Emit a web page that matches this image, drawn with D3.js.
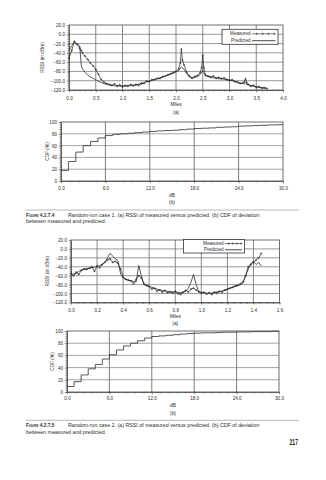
<!DOCTYPE html>
<html>
<head>
<meta charset="utf-8">
<script src="https://cdn.jsdelivr.net/npm/d3@7/dist/d3.min.js"></script>
<style>
  html, body { margin: 0; padding: 0; background: #fff; }
  svg { display: block; }
  text { font-family: "Liberation Sans", Arial, sans-serif; fill: #2b2b2b; }
</style>
</head>
<body>
<svg id="page" width="326" height="480" viewBox="0 0 326 480"></svg>
<script>
// ---------- Random-run case 1 ----------
const case1Miles = [
  0, 0.05, 0.1, 0.15, 0.2, 0.23, 0.25, 0.3, 0.35, 0.4,
  0.45, 0.5, 0.55, 0.6, 0.65, 0.7, 0.75, 0.8, 0.85, 0.9,
  0.95, 1.0, 1.05, 1.1, 1.15, 1.2, 1.25, 1.3, 1.35, 1.4,
  1.45, 1.5, 1.55, 1.6, 1.65, 1.7, 1.75, 1.8, 1.85, 1.9,
  1.95, 2.0, 2.05, 2.08, 2.1, 2.12, 2.15, 2.2, 2.25, 2.3,
  2.35, 2.4, 2.45, 2.48, 2.5, 2.52, 2.55, 2.6, 2.65, 2.7,
  2.75, 2.8, 2.85, 2.9, 2.95, 3.0, 3.05, 3.1, 3.15, 3.2,
  3.25, 3.28, 3.3, 3.32, 3.35, 3.4, 3.45, 3.5, 3.55, 3.6,
  3.65, 3.7
];
const case1Measured = [
  -52, -35, -15, -22, -30, -35, -40, -47, -54, -62,
  -68, -76, -86, -97, -103, -106, -108, -110, -107, -112,
  -109, -113, -110, -112, -108, -111, -108, -110, -105, -106,
  -101, -102, -98, -98, -95, -95, -91, -90, -87, -85,
  -82, -80, -74, -62, -32, -56, -66, -82, -90, -94,
  -91, -89, -83, -72, -45, -72, -88, -90, -92, -90,
  -95, -93, -96, -94, -98, -99, -98, -102, -103, -106,
  -105, -102, -96, -104, -108, -112, -110, -114, -113, -116,
  -115, -117
];
const case1Predicted = [
  -35, -25, -17, -20, -25, -68, -74, -82, -88, -92,
  -95, -98, -101, -104, -106, -108, -109, -110, -111, -110,
  -112, -111, -112, -110, -111, -109, -110, -107, -108, -104,
  -102, -101, -99, -97, -96, -94, -93, -90, -88, -86,
  -84, -81, -78, -74, -70, -72, -76, -84, -92, -95,
  -93, -91, -87, -82, -77, -82, -89, -91, -93, -94,
  -93, -96, -95, -97, -97, -99, -100, -101, -104, -105,
  -106, -107, -105, -108, -109, -110, -112, -113, -114, -115,
  -116, -116
];
const case1Db = [
  0, 1, 2, 3, 4, 5, 6, 7, 8, 9, 10, 11, 12, 13, 14, 15,
  16, 17, 18, 19, 20, 21, 22, 23, 24, 25, 26, 27, 28, 29, 30
];
const case1Cdf = [
  18, 33, 49, 60, 67, 73, 77, 79, 80, 81, 82, 83, 84, 85, 85.5, 86,
  87, 88, 89, 89.5, 90, 91, 91.5, 92, 93, 93.5, 94, 94.5, 95, 95.3, 95.5
];

// ---------- Random-run case 2 ----------
const case2Miles = [
  0, 0.02, 0.04, 0.06, 0.08, 0.1, 0.12, 0.14, 0.16, 0.18,
  0.2, 0.22, 0.24, 0.26, 0.28, 0.3, 0.32, 0.34, 0.36, 0.38,
  0.4, 0.42, 0.44, 0.46, 0.48, 0.5, 0.52, 0.54, 0.56, 0.58,
  0.6, 0.62, 0.64, 0.66, 0.68, 0.7, 0.72, 0.74, 0.76, 0.78,
  0.8, 0.82, 0.84, 0.86, 0.88, 0.9, 0.92, 0.94, 0.96, 0.98,
  1.0, 1.02, 1.04, 1.06, 1.08, 1.1, 1.12, 1.14, 1.16, 1.18,
  1.2, 1.22, 1.24, 1.26, 1.28, 1.3, 1.32, 1.34, 1.36, 1.38,
  1.4, 1.42, 1.44, 1.46
];
const case2Measured = [
  -55, -60, -52, -57, -48, -45, -46, -43, -40, -50,
  -38, -42, -35, -30, -25, -22, -30, -28, -32, -45,
  -63, -68, -70, -72, -78, -68, -60, -65, -78, -82,
  -84, -90, -88, -95, -92, -97, -93, -98, -96, -99,
  -95, -100, -102, -97, -93, -96, -90, -88, -92, -96,
  -99, -97, -101, -98, -102, -97, -99, -95, -97, -92,
  -90, -88, -86, -83, -82, -78, -74, -60, -40, -35,
  -30, -25, -20, -10
];
const case2Predicted = [
  -58, -56, -55, -50, -47, -45, -44, -44, -42, -41,
  -40, -37, -34, -30, -20, -10, -16, -22, -26, -55,
  -65, -68, -70, -71, -73, -74, -37, -60, -80, -82,
  -84, -86, -88, -90, -92, -93, -94, -95, -96, -96,
  -97, -97, -98, -97, -95, -88, -75, -57, -80, -95,
  -97, -98, -99, -100, -99, -98, -96, -96, -94, -93,
  -91, -88, -86, -84, -82, -80, -76, -60, -45, -33,
  -28, -35, -30, -38
];
const case2Db = [
  0, 1, 2, 3, 4, 5, 6, 7, 8, 9, 10, 11, 12, 13, 14, 15,
  16, 17, 18, 19, 20, 21, 22, 23, 24, 25, 26, 27, 28, 29, 30
];
const case2Cdf = [
  9, 17, 28, 38, 45, 54, 61, 69, 75.5, 80, 84, 88.5, 91, 92, 93, 94,
  95, 96, 96.5, 97, 97, 97.5, 98, 98, 98.5, 98.5, 99, 99, 99, 99.5, 100
];

// ---------- Axis ticks ----------
const rssiTicks = [-120, -100, -80, -60, -40, -20, 0, 20];
const case1MileTicks = [0, 0.5, 1, 1.5, 2, 2.5, 3, 3.5, 4];
const case2MileTicks = [0, 0.2, 0.4, 0.6, 0.8, 1, 1.2, 1.4, 1.6];
const cdfTicks = [0, 20, 40, 60, 80, 100];
const dbTicks = [0, 6, 12, 18, 24, 30];

const svg = d3.select("#page");
const fmt1 = d3.format(".1f");
const AXIS = "#4a4a4a";

function styleAxis(sel, size) {
  sel.attr("font-family", null).attr("font-size", null);
  sel.select(".domain").attr("stroke", AXIS).attr("stroke-width", 0.8);
  sel.selectAll(".tick line").attr("stroke", AXIS).attr("stroke-width", 0.6);
  sel.selectAll(".tick text").attr("font-size", size).attr("fill", "#333");
}

function panel(o) {
  const b = o.box;
  const x = d3.scaleLinear().domain(o.xDomain).range([b.left, b.right]);
  const y = d3.scaleLinear().domain(o.yDomain).range([b.bottom, b.top]);
  const g = svg.append("g");

  // grid
  g.append("g").selectAll("line").data(o.yTicks.slice(1, -1)).join("line")
    .attr("x1", b.left).attr("x2", b.right)
    .attr("y1", d => y(d)).attr("y2", d => y(d))
    .attr("stroke", o.hGrid).attr("stroke-width", 0.9);
  g.append("g").selectAll("line").data(o.xTicks.slice(1, -1)).join("line")
    .attr("y1", b.top).attr("y2", b.bottom)
    .attr("x1", d => x(d)).attr("x2", d => x(d))
    .attr("stroke", o.vGrid).attr("stroke-width", 0.9);

  // minor ticks
  g.append("g").attr("transform", `translate(0,${b.bottom})`)
    .call(d3.axisBottom(x).tickValues(o.xMinor).tickFormat("").tickSizeInner(1.4).tickSizeOuter(0))
    .call(s => { styleAxis(s, 4.6); s.select(".domain").remove(); });
  g.append("g").attr("transform", `translate(${b.left},0)`)
    .call(d3.axisLeft(y).tickValues(o.yMinor).tickFormat("").tickSizeInner(1.4).tickSizeOuter(0))
    .call(s => { styleAxis(s, 4.6); s.select(".domain").remove(); });

  // major ticks and labels
  g.append("g").attr("transform", `translate(0,${b.bottom})`)
    .call(d3.axisBottom(x).tickValues(o.xTicks).tickFormat(o.xFormat)
      .tickSizeInner(2.2).tickSizeOuter(0).tickPadding(o.xPad))
    .call(s => styleAxis(s, 4.6));
  g.append("g").attr("transform", `translate(${b.left},0)`)
    .call(d3.axisLeft(y).tickValues(o.yTicks).tickFormat(o.yFormat)
      .tickSizeInner(2.2).tickSizeOuter(0).tickPadding(o.yPad))
    .call(s => styleAxis(s, 4.6));

  // frame
  g.append("rect")
    .attr("x", b.left).attr("y", b.top)
    .attr("width", b.right - b.left).attr("height", b.bottom - b.top)
    .attr("fill", "none").attr("stroke", AXIS).attr("stroke-width", 0.8);

  // titles
  g.append("text")
    .attr("transform", `translate(${o.yTitleX},${(b.top + b.bottom) / 2}) rotate(-90)`)
    .attr("text-anchor", "middle").attr("font-size", 4.8).attr("dy", "0.35em")
    .text(o.yTitle);
  const cx = (b.left + b.right) / 2;
  g.append("text").attr("x", cx).attr("y", o.xTitleY)
    .attr("text-anchor", "middle").attr("font-size", 4.8).text(o.xTitle);
  g.append("text").attr("x", cx).attr("y", o.xTitleY + 7.5)
    .attr("text-anchor", "middle").attr("font-size", 4.8).text(o.sub);

  return { g, x, y };
}

const plus = "M-1.1,0H1.1M0,-1.1V1.1";

function rssiPanel(o, miles, measured, predicted) {
  const { g, x, y } = panel(Object.assign({
    yDomain: [-120, 20], yTicks: rssiTicks, yMinor: d3.range(-115, 20, 5),
    yFormat: fmt1, xFormat: fmt1, yTitle: "RSSI (in dBm)", xTitle: "Miles", sub: "(a)",
    hGrid: "#8c8c8c", vGrid: "#7a7a7a", yPad: 1.8
  }, o));

  const line = d3.line().x(d => x(d[0])).y(d => y(d[1]));
  const pred = miles.map((m, i) => [m, predicted[i]]);
  const meas = miles.map((m, i) => [m, measured[i]]);

  g.append("path").attr("d", line(pred))
    .attr("fill", "none").attr("stroke", "#3a3a3a").attr("stroke-width", 0.85);
  g.append("path").attr("d", line(meas))
    .attr("fill", "none").attr("stroke", "#262626").attr("stroke-width", 0.7);
  g.append("g").selectAll("path").data(meas).join("path")
    .attr("transform", d => `translate(${x(d[0])},${y(d[1])})`)
    .attr("d", plus).attr("stroke", "#262626").attr("stroke-width", 0.5);

  // legend
  const L = o.legend;
  const lg = g.append("g");
  lg.append("rect").attr("x", L.x).attr("y", L.y).attr("width", L.w).attr("height", L.h)
    .attr("fill", "#fff").attr("stroke", "#333").attr("stroke-width", 0.8);
  const rows = [
    { name: "Measured", y: L.y + L.h * 0.3, markers: true },
    { name: "Predicted", y: L.y + L.h * 0.76, markers: false }
  ];
  rows.forEach(r => {
    lg.append("text").attr("x", L.textRight).attr("y", r.y).attr("dy", "0.35em")
      .attr("text-anchor", "end").attr("font-size", 4.6).text(r.name);
    lg.append("line").attr("x1", L.textRight + 1.5).attr("x2", L.x + L.w - 2.5)
      .attr("y1", r.y).attr("y2", r.y)
      .attr("stroke", "#2b2b2b").attr("stroke-width", r.markers ? 0.6 : 0.85);
    if (r.markers) {
      const x0 = L.textRight + 1.5, x1 = L.x + L.w - 2.5;
      [0.2, 0.45, 0.7, 0.95].forEach(f => {
        lg.append("path").attr("transform", `translate(${x0 + (x1 - x0) * f},${r.y})`)
          .attr("d", plus).attr("stroke", "#2b2b2b").attr("stroke-width", 0.5);
      });
    }
  });
}

function cdfPanel(o, db, cdf) {
  const { g, x, y } = panel(Object.assign({
    xDomain: [0, 30], yDomain: [0, 100], xTicks: dbTicks, yTicks: cdfTicks,
    xMinor: d3.range(0, 30.01, 1.2), yMinor: d3.range(0, 100.1, 4),
    xFormat: fmt1, yFormat: d3.format("d"), yTitle: "CDF (%)", xTitle: "dB", sub: "(b)",
    hGrid: "#9a9a9a", vGrid: "#6e6e6e", yPad: 1.8
  }, o));
  const step = d3.line().curve(d3.curveStepAfter).x(d => x(d[0])).y(d => y(d[1]));
  g.append("path").attr("d", step(db.map((d, i) => [d, cdf[i]])))
    .attr("fill", "none").attr("stroke", "#2e2e2e").attr("stroke-width", 0.8);
}

function caption(y, label, line1, line2) {
  svg.append("line").attr("x1", 26).attr("x2", 299).attr("y1", y).attr("y2", y)
    .attr("stroke", "#9a9a9a").attr("stroke-width", 0.7);
  const t = svg.append("text").attr("x", 26).attr("y", y + 7).attr("font-size", 5.3);
  t.append("tspan").attr("font-weight", "bold").attr("font-size", 4.8)
    .style("font-variant", "small-caps").text(label);
  t.append("tspan").attr("x", 68).text(line1);
  svg.append("text").attr("x", 26).attr("y", y + 13.3).attr("font-size", 5.3).text(line2);
}

// Figure 4.2.7.4 (a)
rssiPanel({
  box: { left: 69, right: 283, top: 25, bottom: 90 },
  xDomain: [0, 4], xTicks: case1MileTicks, xMinor: d3.range(0, 4.01, 0.1),
  xPad: 4.5, yTitleX: 42, xTitleY: 106,
  legend: { x: 222, y: 29.3, w: 56, h: 15, textRight: 250.5 }
}, case1Miles, case1Measured, case1Predicted);

// Figure 4.2.7.4 (b)
cdfPanel({
  box: { left: 61, right: 283, top: 122, bottom: 181 },
  xPad: 3.2, yTitleX: 47.5, xTitleY: 196.5
}, case1Db, case1Cdf);

caption(210, "Figure 4.2.7.4",
  "Random-run case 1. (a) RSSI of measured versus predicted. (b) CDF of deviation",
  "between measured and predicted.");

// Figure 4.2.7.5 (a)
rssiPanel({
  box: { left: 71, right: 279.5, top: 240, bottom: 302.5 },
  xDomain: [0, 1.6], xTicks: case2MileTicks, xMinor: d3.range(0, 1.601, 0.05),
  xPad: 4.2, yTitleX: 47, xTitleY: 317.5,
  legend: { x: 183.5, y: 239.5, w: 61, h: 13.5, textRight: 223.5 }
}, case2Miles, case2Measured, case2Predicted);

// Figure 4.2.7.5 (b)
cdfPanel({
  box: { left: 67, right: 279, top: 331, bottom: 392 },
  xPad: 2.2, yTitleX: 52.5, xTitleY: 407
}, case2Db, case2Cdf);

caption(420.3, "Figure 4.2.7.5",
  "Random-run case 2. (a) RSSI of measured versus predicted. (b) CDF of deviation",
  "between measured and predicted.");

// page number
svg.append("text").attr("x", 298).attr("y", 444.5).attr("text-anchor", "end")
  .attr("font-size", 9).attr("font-weight", "bold")
  .attr("textLength", 8.5).attr("lengthAdjust", "spacingAndGlyphs")
  .attr("fill", "#1e1e1e").text("217");
</script>
</body>
</html>
